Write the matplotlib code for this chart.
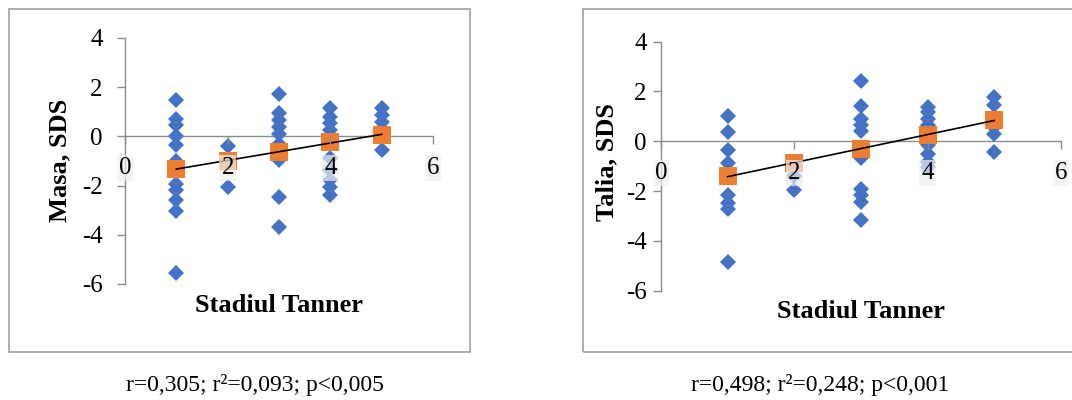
import matplotlib
matplotlib.use("Agg")
import matplotlib.pyplot as plt
import numpy as np
from matplotlib.patches import Rectangle

plt.rcParams['font.family'] = ['Liberation Serif', 'DejaVu Serif']

# ---------------- data ----------------
# Left panel: Masa, SDS by Tanner stage (individual values)
masa_x = [1]*11 + [2]*3 + [3]*10 + [4]*10 + [5]*5
masa_y = [1.48, 0.72, 0.45, 0.0, -0.35, -1.0, -1.95, -2.17, -2.58, -3.03, -5.56,
          -0.41, -1.0, -2.04,
          1.73, 0.94, 0.67, 0.4, 0.1, -0.3, -0.95, -0.62, -2.45, -3.67,
          1.15, 0.8, 0.54, 0.26, 0.0, -0.88, -1.36, -1.77, -2.04, -2.38,
          1.15, 0.87, 0.6, 0.3, -0.55]
# Left panel means
stage = [1, 2, 3, 4, 5]
masa_mean = [-1.32, -1.0, -0.62, -0.23, 0.06]

# Right panel: Talia, SDS by Tanner stage
talia_x = [1]*9 + [2]*3 + [3]*11 + [4]*10 + [5]*6
talia_y = [1.02, 0.38, -0.36, -0.86, -1.43, -2.17, -2.46, -2.7, -4.85,
           -0.87, -1.4, -1.97,
           2.41, 1.42, 0.91, 0.67, 0.4, -0.29, -0.68, -1.9, -2.17, -2.44, -3.17,
           1.38, 1.18, 0.91, 0.64, 0.27, -0.16, -0.5, -0.83, -1.03, 0.1,
           1.78, 1.45, 0.84, 0.57, 0.31, -0.43]
talia_mean = [-1.41, -0.87, -0.29, 0.27, 0.84]

xticks = [0, 2, 4, 6]
yticks = [-6, -4, -2, 0, 2, 4]
captions = ["r=0,305; r²=0,093; p<0,005", "r=0,498; r²=0,248; p<0,001"]
ylabels = ["Masa, SDS", "Talia, SDS"]
xlabel = "Stadiul Tanner"

# ---------------- figure ----------------
W, H = 1072, 400
fig = plt.figure(figsize=(W/100, H/100), dpi=100)

def fx(px):
    return px / W

def fy(py):
    return 1 - py / H

AX_GRAY = '#8c8c8c'
BOX_GRAY = '#a0a0a0'
BLUE = '#4472C4'
ORANGE = '#ED7D31'

# outer chart boxes
fig.patches.append(Rectangle((fx(9), fy(352)), fx(470-9), (352-9)/H,
                             transform=fig.transFigure, fill=False,
                             edgecolor=BOX_GRAY, linewidth=1.2))
fig.patches.append(Rectangle((fx(583), fy(352)), fx(1080-583), (352-9)/H,
                             transform=fig.transFigure, fill=False,
                             edgecolor=BOX_GRAY, linewidth=1.2))

panels = [
    dict(rect=(fx(125), fy(284), fx(433-125), (284-38)/H), xs=masa_x, ys=masa_y,
         mean=masa_mean, ypad=10, ylab_pos=(60, 160), xlab_pos=(279, 305),
         cap_pos=(255, 385), ylabel=ylabels[0], cap=captions[0]),
    dict(rect=(fx(661), fy(290.7), fx(1061-661), (290.7-41.7)/H), xs=talia_x, ys=talia_y,
         mean=talia_mean, ypad=4.3, ylab_pos=(607, 162), xlab_pos=(861, 311),
         cap_pos=(820, 385), ylabel=ylabels[1], cap=captions[1]),
]

for p in panels:
    ax = fig.add_axes(p['rect'])
    ax.set_xlim(0, 6)
    ax.set_ylim(-6, 4)
    ax.patch.set_visible(False)
    for s in ['top', 'right']:
        ax.spines[s].set_visible(False)
    ax.spines['left'].set_color(AX_GRAY)
    ax.spines['bottom'].set_color(AX_GRAY)
    ax.spines['left'].set_linewidth(1.0)
    ax.spines['bottom'].set_linewidth(1.0)
    ax.spines['bottom'].set_position(('data', 0))
    for s in ax.spines.values():
        s.set_zorder(0.5)

    ax.set_xticks(xticks)
    ax.set_yticks(yticks)
    ax.set_xticklabels([str(t) for t in xticks])
    ax.set_yticklabels([str(t) for t in yticks])
    ax.tick_params(axis='x', direction='out', length=6, width=1.0, color=AX_GRAY,
                   labelsize=18, pad=9)
    ax.tick_params(axis='y', direction='out', length=6, width=1.0, color=AX_GRAY,
                   labelsize=18, pad=p['ypad'])
    for lab in ax.get_xticklabels():
        lab.set_bbox(dict(facecolor='#eeeeee', edgecolor='none', alpha=0.7, pad=1.5))
    ax.xaxis.set_zorder(5)

    ax.plot(p['xs'], p['ys'], linestyle='none', marker='D', markersize=8.5,
            color=BLUE, markeredgewidth=0, zorder=2)
    ax.plot(stage, p['mean'], linestyle='none', marker='s', markersize=13,
            color=ORANGE, markeredgewidth=0, zorder=3)
    coef = np.polyfit(stage, p['mean'], 1)
    xx = np.array([stage[0], stage[-1]])
    ax.plot(xx, np.polyval(coef, xx), color='black', linewidth=1.2, zorder=4)

    fig.text(fx(p['ylab_pos'][0]), fy(p['ylab_pos'][1]), p['ylabel'], rotation=90,
             ha='center', va='center', fontsize=19, fontweight='bold')
    fig.text(fx(p['xlab_pos'][0]), fy(p['xlab_pos'][1]), xlabel,
             ha='center', va='center', fontsize=19, fontweight='bold')
    fig.text(fx(p['cap_pos'][0]), fy(p['cap_pos'][1]), p['cap'],
             ha='center', va='center', fontsize=17)

fig.savefig('out.png', dpi=100)
